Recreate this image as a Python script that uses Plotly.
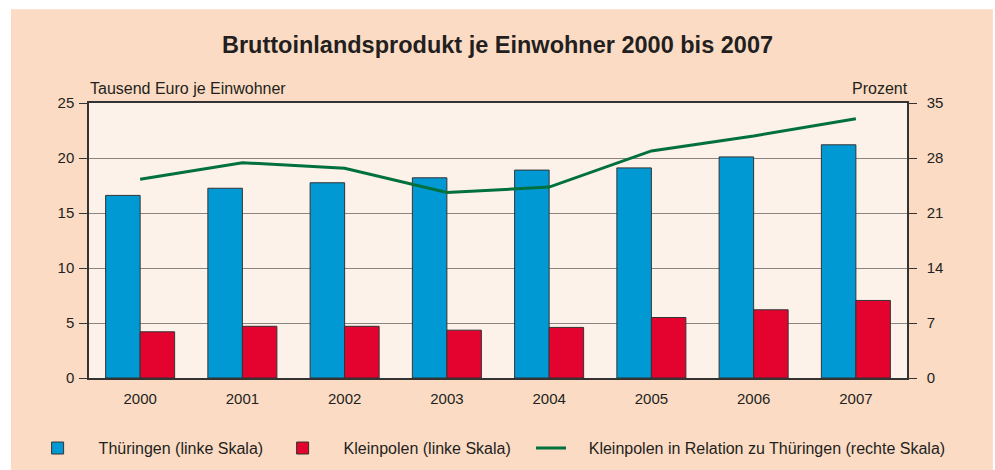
import plotly.graph_objects as go

years = ['2000', '2001', '2002', '2003', '2004', '2005', '2006', '2007']
thueringen = [16.6, 17.25, 17.75, 18.2, 18.9, 19.1, 20.1, 21.2]
kleinpolen = [4.2, 4.7, 4.7, 4.35, 4.6, 5.5, 6.2, 7.05]
relation = [25.3, 27.4, 26.7, 23.6, 24.3, 28.9, 30.8, 33.0]

left_ticks = [0, 5, 10, 15, 20, 25]
right_ticks = [0, 7, 14, 21, 28, 35]

blue = '#0099d3'
red = '#e4032e'
green = '#00703c'
peach = '#fbdbc4'
cream = '#fdf2e9'
dark = '#231f20'
font = 'Liberation Sans, Arial, sans-serif'
pad = '\u00a0' * 4

fig = go.Figure()

fig.add_trace(go.Bar(
    x=years, y=thueringen, name='Thüringen (linke Skala)', legend='legend',
    showlegend=True,
    marker=dict(color=blue, line=dict(color='#333333', width=1)),
))
fig.add_trace(go.Bar(
    x=years, y=kleinpolen, name='Kleinpolen (linke Skala)', legend='legend2',
    showlegend=True,
    marker=dict(color=red, line=dict(color='#333333', width=1)),
))
fig.add_trace(go.Scatter(
    x=years, y=relation, name=pad + 'Kleinpolen in Relation zu Thüringen (rechte Skala)',
    mode='lines', line=dict(color=green, width=3), yaxis='y2', legend='legend3',
    showlegend=True,
))

# one legend per entry, so each can sit where the reference puts it
legend_common = dict(orientation='h', xanchor='left', y=-0.255, yanchor='middle',
                     bgcolor='rgba(0,0,0,0)', font=dict(size=16), visible=True)

fig.update_layout(
    width=995, height=470,
    margin=dict(l=89, r=88, t=103, b=92, autoexpand=False),
    paper_bgcolor='white',
    plot_bgcolor='rgba(0,0,0,0)',
    font=dict(family=font, size=16, color=dark),
    showlegend=True,
    barmode='group', bargap=0.325, bargroupgap=0,
    title=dict(text='<b>Bruttoinlandsprodukt je Einwohner 2000 bis 2007</b>',
               x=0.5, xanchor='center', y=0.905, yanchor='middle',
               font=dict(size=23.5, color=dark)),
    xaxis=dict(showline=True, linecolor='#333333', linewidth=1.5, mirror=True,
               ticks='', showgrid=False, tickfont=dict(size=15), ticklabelstandoff=6),
    yaxis=dict(range=[0, 25], tickvals=left_ticks, ticks='outside', ticklen=8,
               tickcolor='#333333', showline=True, linecolor='#333333', linewidth=1.5,
               showgrid=True, gridcolor='#8a8580', gridwidth=1.2, zeroline=False,
               tickfont=dict(size=15), ticklabelstandoff=2),
    yaxis2=dict(range=[0, 35], tickvals=right_ticks, ticks='outside', ticklen=8,
                tickcolor='#333333', showline=True, linecolor='#333333', linewidth=1.5,
                overlaying='y', side='right', showgrid=False, zeroline=False,
                tickfont=dict(size=15), ticklabelstandoff=7),
    legend=dict(legend_common, x=-0.0885, itemwidth=72),
    legend2=dict(legend_common, x=0.211, itemwidth=72),
    legend3=dict(legend_common, x=0.5403, itemwidth=30),
    shapes=[
        dict(type='rect', xref='paper', yref='paper', x0=-0.0954, x1=1.105,
             y0=-0.34, y1=1.341, fillcolor=peach, line=dict(width=0), layer='below'),
        dict(type='rect', xref='paper', yref='paper', x0=0, x1=1, y0=0, y1=1,
             fillcolor=cream, line=dict(width=0), layer='below'),
    ],
    annotations=[
        dict(text='Tausend Euro je Einwohner', xref='paper', yref='paper', x=0, y=1.0,
             xanchor='left', yanchor='bottom', yshift=4, xshift=-1, showarrow=False,
             font=dict(size=16, color=dark)),
        dict(text='Prozent', xref='paper', yref='paper', x=1, y=1.0,
             xanchor='right', yanchor='bottom', yshift=4, xshift=3, showarrow=False,
             font=dict(size=16, color=dark)),
    ],
)

# the page keeps the browser's default 8px body margin unless it is removed
fig.write_html('out.html', config={'displayModeBar': False},
               post_script="document.body.style.margin='0';")
